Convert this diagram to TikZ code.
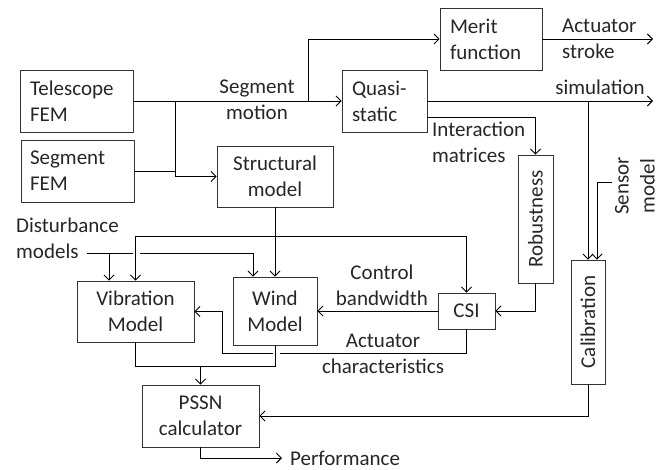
\documentclass[tikz,border=0pt]{standalone}
\usepackage{fontspec}
\setmainfont{Carlito}
\usetikzlibrary{arrows.meta}
\begin{document}
\begin{tikzpicture}[x=1pt,y=-1pt,
  every node/.style={font=\fontsize{21}{26}\selectfont, inner sep=0pt, text=black!85},
  blk/.style={draw=black!80, line width=0.9pt},
  ln/.style={line width=0.9pt, draw=black},
  ar/.style={ln, -{Straight Barb[length=5pt,width=10pt,line width=0.9pt]}}]
\useasboundingbox (0,0) rectangle (664,469);

% boxes
\node[blk, minimum width=113, minimum height=62, text width=93, align=left] (tel) at (76.5,101) {Telescope\\FEM};
\node[blk, minimum width=113, minimum height=62, text width=95, align=left] (seg) at (77.5,171) {Segment\\FEM};
\node[blk, minimum width=116, minimum height=61, align=center] (str) at (275,176.5) {Structural\\model};
\node[blk, minimum width=102, minimum height=62, text width=82, align=left] (mer) at (491,39) {Merit\\function};
\node[blk, minimum width=85, minimum height=62, text width=65, align=left] (qs) at (384.5,101) {Quasi-\\static};
\node[blk, minimum width=35, minimum height=128] (rob) at (535.5,219) {};
\node[rotate=90] (robt) at (rob.center) {Robustness};
\node[blk, minimum width=34, minimum height=124] (cal) at (588,322) {};
\node[rotate=90] (calt) at (cal.center) {Calibration};
\node[blk, minimum width=57, minimum height=36] (csi) at (466.5,311) {CSI};
\node[blk, minimum width=117, minimum height=61, align=center] (vib) at (135.5,311.5) {Vibration\\Model};
\node[blk, minimum width=84, minimum height=68, align=center] (wind) at (275,311) {Wind\\Model};
\node[blk, minimum width=117, minimum height=62, align=center] (pssn) at (200.5,416) {PSSN\\calculator};

% labels
\node[align=center] (lsm) at (257,100) {Segment\\motion};
\node[anchor=west, align=left] (las) at (562,39) {Actuator\\stroke};
\node (lsim) at (600,87) {simulation};
\node[anchor=west, align=left] (lim) at (432,142) {Interaction\\matrices};
\node[align=center] (lcb) at (382,285) {Control\\bandwidth};
\node[align=center] (lac) at (383,354) {Actuator\\characteristics};
\node[anchor=west, align=left] (ldm) at (16,238) {Disturbance\\models};
\node[rotate=90, align=center] (lsen) at (635,186) {Sensor\\model};
\node[anchor=west] (lperf) at (290,458) {Performance};

% coordinates
\coordinate (j1) at (175,101);
\coordinate (j2) at (308,101);
\coordinate (j3) at (588,101);
\coordinate (aso) at (653,39);
\coordinate (simo) at (653,101);
\coordinate (sen) at (612,182);
\coordinate (j4) at (275,236);
\coordinate (d0) at (87,253);
\coordinate (d0e) at (133,253);
\coordinate (d1) at (140,253);
\coordinate (d2) at (109,253);
\coordinate (a1) at (280,353);
\coordinate (a2) at (273,353);
\coordinate (a3) at (222,353);
\coordinate (m1) at (200.5,366);
\coordinate (perf) at (282,458);

% connectors
\draw[ar] (tel.east) -- (qs.west);
\draw[ar] (j2) |- (mer.west);
\draw[ar] (j1) |- (str.west);
\draw[ln] (seg.east) -- (seg.east -| j1);
\draw[ar] (mer.east) -- (aso);
\draw[ar] (qs.east) -- (simo);
\draw[ar] (j3) -- (cal.north);
\draw[ar] (sen) -| ([xshift=9pt]cal.north);
\draw[ar] ([yshift=-16pt]qs.east) -| (rob.north);
\draw[ar] (rob.south) |- (csi.east);
\draw[ar] (csi.west) -- (wind.east);
\draw[ar] (str.south) -- (wind.north);
\draw[ar] (j4) -| (vib.north);
\draw[ar] (j4) -| (csi.north);
\draw[ln] (d0) -- (d0e);
\draw[ar] (d1) -| ([xshift=-22pt]wind.north);
\draw[ar] (d2) -- (d2 |- vib.north);
\draw[ln] (csi.south) |- (a1);
\draw[ar] (a2) -- (a3) |- (vib.east);
\draw[ln] (vib.south) |- (wind.south |- m1) -- (wind.south);
\draw[ar] (m1) -- (pssn.north);
\draw[ar] (cal.south) |- (pssn.east);
\draw[ar] (pssn.south) |- (perf);
\end{tikzpicture}
\end{document}
